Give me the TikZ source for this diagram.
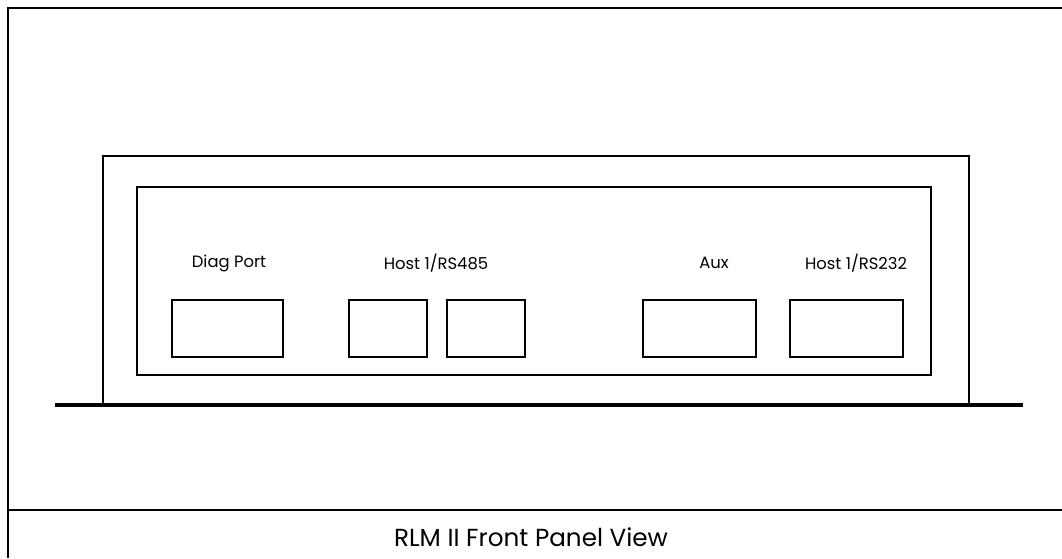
\documentclass[tikz,border=0pt]{standalone}
\usepackage{fontspec}
\setmainfont{Poppins}
\tikzset{every picture/.style={line width=0.75pt}}
\tikzset{port/.style={draw,line width=1.5pt,inner sep=0pt,anchor=north west},
         portlabel/.style={font=\fontsize{12.3}{14}\selectfont,inner sep=0pt}}

\begin{document}
\begin{tikzpicture}[x=0.75pt,y=0.75pt,yscale=-1,xscale=1]
        \useasboundingbox (0,0) rectangle (1062,558);

        %Frame
        \draw [line width=1.5pt]  (1062,8) -- (8,8) -- (8,558) ;
        \draw [line width=1.2pt]  (8,510) -- (1062,510) ;
        %Housing
        \draw [line width=1.1pt]  (103,405) -- (103,156) -- (969,156) -- (969,405) ;
        %Base
        \draw [line width=2.4pt]  (55,405) -- (1023,405) ;
        %Panel
        \draw [line width=1.1pt]  (137,187) rectangle (931,375) ;

        %Ports
        \node [port,minimum width=83.25pt,minimum height=42.75pt] (diag) at (171,299) {};
        \node [port,minimum width=58.5pt,minimum height=42.75pt] (rsa) at (348,299) {};
        \node [port,minimum width=58.5pt,minimum height=42.75pt] (rsb) at (446,299) {};
        \node [port,minimum width=84.75pt,minimum height=42.75pt] (aux) at (642,299) {};
        \node [port,minimum width=84.75pt,minimum height=42.75pt] (rs232) at (789,299) {};

        %Labels
        \node [portlabel] (diaglbl) at (229,263) {Diag Port};
        \node [portlabel] (rs485lbl) at (436,263) {Host 1/RS485};
        \node [portlabel] (auxlbl) at (714,263) {Aux};
        \node [portlabel] (rs232lbl) at (856,263) {Host 1/RS232};

        \node [font=\fontsize{18.5}{21}\selectfont,inner sep=0pt] (title) at (531,537) {RLM II Front Panel View};

        \end{tikzpicture}
\end{document}
